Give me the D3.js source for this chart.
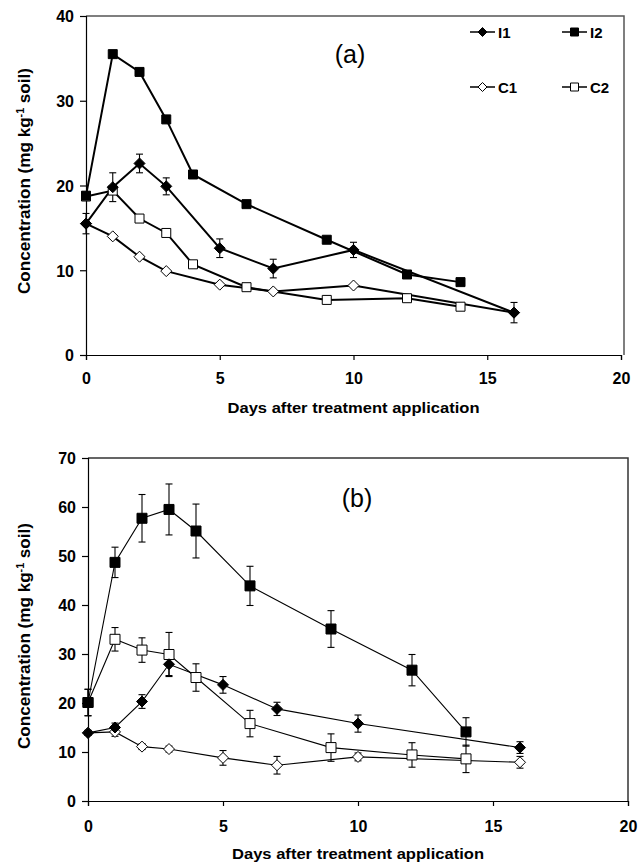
<!DOCTYPE html>
<html><head><meta charset="utf-8">
<script src="https://cdn.jsdelivr.net/npm/d3@7"></script>
<style>
html,body{margin:0;padding:0;background:#fff;}
svg{display:block;font-family:"Liberation Sans",Arial,sans-serif;}
</style></head>
<body><svg id="chart" width="638" height="866"></svg>
<script>
// ---------- data ----------
const seriesNames = ["I1","I2","C1","C2"];
const xTicks = [0,5,10,15,20];
const yTicksA = [0,10,20,30,40];
const yTicksB = [0,10,20,30,40,50,60,70];

const daysShort = [0,1,2,3,5,7,10,16];      // I1, C1
const daysLong  = [0,1,2,3,4,6,9,12,14];    // I2, C2

// Panel (a)
const aI1 = [15.5,19.8,22.6,19.9,12.6,10.2,12.4,5.0];
const aI1err = [1.2,1.7,1.1,1.0,1.1,1.1,0.9,1.2];
const aI2 = [18.8,35.5,33.4,27.8,21.3,17.8,13.6,9.5,8.6];
const aI2err = [0,0,0,0,0,0,0,0,0];
const aC1 = [15.5,14.0,11.6,9.9,8.3,7.5,8.2,5.0];
const aC1err = [0,0,0,0,0,0,0,0];
const aC2 = [18.7,19.4,16.1,14.4,10.7,8.0,6.5,6.7,5.7];
const aC2err = [0,0,0,0,0,0,0,0,0];

// Panel (b)
const bI1 = [13.9,15.0,20.3,27.9,23.7,18.8,15.8,10.9];
const bI1err = [0.5,0.9,1.4,2.3,1.7,1.35,1.75,1.2];
const bI2 = [20.1,48.7,57.7,59.5,55.1,43.9,35.1,26.7,14.1];
const bI2err = [2.7,3.1,4.85,5.2,5.5,4.0,3.75,3.2,2.9];
const bC1 = [13.9,14.1,11.1,10.6,8.8,7.3,9.0,7.9];
const bC1err = [0.5,0.9,0.6,0.6,1.5,1.8,0.8,1.2];
const bC2 = [20.1,33.0,30.8,29.9,25.2,15.8,10.9,9.4,8.6];
const bC2err = [2.7,2.4,2.5,4.5,2.8,2.7,2.8,2.5,2.8];

const xTitle = "Days after treatment application";

// ---------- helpers ----------
const svg = d3.select("#chart");
const styles = {
  I1:{shape:"diamond", fill:"#000"},
  I2:{shape:"square", fill:"#000"},
  C1:{shape:"diamond", fill:"#fff"},
  C2:{shape:"square", fill:"#fff"}
};
function markerPath(shape, s){
  if(shape==="square"){const h=s/2;return `M${-h},${-h}H${h}V${h}H${-h}Z`;}
  const h=s/2+0.5;return `M0,${-h}L${h},0L0,${h}L${-h},0Z`;
}
function zip(days, vals, errs){return days.map((d,i)=>({x:d,y:vals[i],e:errs[i]}));}

function panel(cfg){
  const g = svg.append("g");
  const x = d3.scaleLinear().domain([0,20]).range([cfg.x0,cfg.x1]);
  const y = d3.scaleLinear().domain([0,cfg.ymax]).range([cfg.y0,cfg.y1]);

  // frame (top & right)
  g.append("path").attr("d",`M${cfg.x0},${cfg.y1}H${cfg.fr}V${cfg.y0}`)
    .attr("fill","none").attr("stroke",cfg.frameColor).attr("stroke-width",1.5);

  // axes
  const xa = g.append("g").attr("transform",`translate(0,${cfg.y0})`)
    .call(d3.axisBottom(x).tickValues(xTicks).tickFormat(d3.format("d")).tickSize(5).tickPadding(cfg.xpad));
  const ya = g.append("g").attr("transform",`translate(${cfg.x0},0)`)
    .call(d3.axisLeft(y).tickValues(cfg.yTicks).tickFormat(d3.format("d")).tickSize(6).tickPadding(6));
  [xa,ya].forEach(a=>{
    a.select(".domain").attr("stroke","#000").attr("stroke-width",1.2);
    a.selectAll(".tick line").attr("stroke","#000").attr("stroke-width",1.2);
    a.selectAll(".tick text").attr("fill","#000").attr("font-size",16).attr("font-weight","bold")
      .attr("font-family","'Liberation Sans',Arial,sans-serif");
  });
  ya.selectAll(".tick text").attr("dy","0.36em");

  // axis titles
  g.append("text").attr("x",(cfg.x0+cfg.x1)/2).attr("y",cfg.xtY).attr("text-anchor","middle")
    .attr("font-size",15.5).attr("font-weight","bold")
    .attr("textLength",252).attr("lengthAdjust","spacingAndGlyphs").text(xTitle);
  const yt = g.append("text").attr("transform",`translate(${cfg.ytX},${cfg.ytC}) rotate(-90)`)
    .attr("text-anchor","middle").attr("font-size",16).attr("font-weight","bold")
    .attr("textLength",226).attr("lengthAdjust","spacingAndGlyphs");
  yt.append("tspan").text("Concentration (mg kg");
  yt.append("tspan").attr("dy",-6).attr("font-size",10).text("-1");
  yt.append("tspan").attr("dy",6).text(" soil)");

  // panel label
  g.append("text").attr("x",cfg.labX).attr("y",cfg.labY).attr("text-anchor","middle")
    .attr("font-size",25).attr("font-weight","normal").text(cfg.label);

  const line = d3.line().x(d=>x(d.x)).y(d=>y(d.y));
  // lines
  cfg.series.forEach(s=>{
    g.append("path").datum(s.data).attr("d",line).attr("fill","none")
      .attr("stroke","#000").attr("stroke-width",cfg.lw);
  });
  // error bars
  cfg.series.forEach(s=>{
    const eb = g.append("g").selectAll("g").data(s.data.filter(d=>d.e>0)).join("g");
    eb.append("line").attr("x1",d=>x(d.x)).attr("x2",d=>x(d.x))
      .attr("y1",d=>y(d.y+d.e)).attr("y2",d=>y(d.y-d.e)).attr("stroke","#000").attr("stroke-width",1.1);
    [1,-1].forEach(k=>{
      eb.append("line").attr("x1",d=>x(d.x)-3.5).attr("x2",d=>x(d.x)+3.5)
        .attr("y1",d=>y(d.y+k*d.e)).attr("y2",d=>y(d.y+k*d.e)).attr("stroke","#000").attr("stroke-width",1.1);
    });
  });
  // markers (draw C first, then I)
  ["C1","C2","I1","I2"].forEach(name=>{
    const s = cfg.series.find(t=>t.name===name);
    const st = styles[name];
    g.append("g").selectAll("path").data(s.data).join("path")
      .attr("transform",d=>`translate(${x(d.x)},${y(d.y)})`)
      .attr("d",markerPath(st.shape, st.shape==="square"?cfg.sq:cfg.dm))
      .attr("fill",st.fill).attr("stroke","#000").attr("stroke-width",1);
  });
  return {g,x,y};
}

const pa = panel({
  x0:86,x1:621,fr:624,y0:355,y1:16,ymax:40,yTicks:yTicksA,frameColor:"#555",xpad:13,
  xtY:413,ytX:30,ytC:181,label:"(a)",labX:350,labY:63,lw:2,sq:9,dm:10,
  series:[
    {name:"I1",data:zip(daysShort,aI1,aI1err)},
    {name:"I2",data:zip(daysLong,aI2,aI2err)},
    {name:"C1",data:zip(daysShort,aC1,aC1err)},
    {name:"C2",data:zip(daysLong,aC2,aC2err)}
  ]
});
const pb = panel({
  x0:88,x1:628,fr:628,y0:801,y1:458,ymax:70,yTicks:yTicksB,frameColor:"#333",xpad:14.5,
  xtY:859,ytX:30,ytC:636,label:"(b)",labX:357,labY:507,lw:1.1,sq:10,dm:10,
  series:[
    {name:"I1",data:zip(daysShort,bI1,bI1err)},
    {name:"I2",data:zip(daysLong,bI2,bI2err)},
    {name:"C1",data:zip(daysShort,bC1,bC1err)},
    {name:"C2",data:zip(daysLong,bC2,bC2err)}
  ]
});

// legend in panel (a)
const legendPos = [
  {name:"I1",lx:470,ly:32},
  {name:"I2",lx:562,ly:32},
  {name:"C1",lx:470,ly:87},
  {name:"C2",lx:562,ly:87}
];
const lg = svg.append("g").selectAll("g").data(legendPos).join("g")
  .attr("transform",d=>`translate(${d.lx},${d.ly})`);
lg.append("line").attr("x1",0).attr("x2",25).attr("stroke","#000").attr("stroke-width",1.5);
lg.append("path").attr("transform","translate(12.5,0)")
  .attr("d",d=>markerPath(styles[d.name].shape, 8))
  .attr("fill",d=>styles[d.name].fill).attr("stroke","#000").attr("stroke-width",1);
lg.append("text").attr("x",28).attr("y",5.5).attr("font-size",15).attr("font-weight","bold").text(d=>d.name);
</script></body></html>
